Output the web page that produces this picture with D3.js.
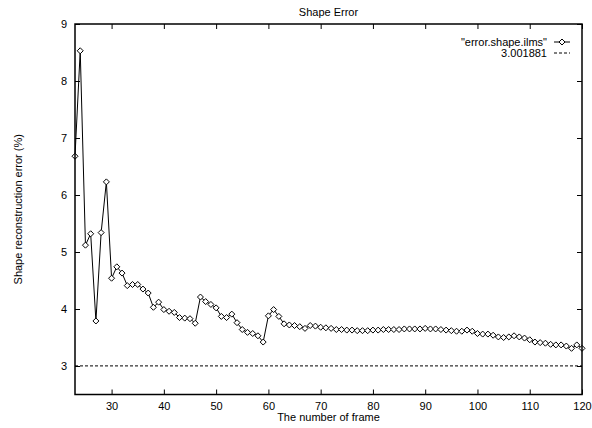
<!DOCTYPE html>
<html>
<head>
<meta charset="utf-8">
<script src="https://cdn.jsdelivr.net/npm/d3@7"></script>
<style>
  body { margin: 0; background: #fff; }
  text { font-family: "Liberation Sans", Arial, sans-serif; fill: #000; }
</style>
</head>
<body>
<svg id="chart" width="592" height="428"></svg>
<script>
// frame numbers 23..120
var frames = d3.range(23, 121);
var errors = [
  6.68, 8.53, 5.12, 5.32, 3.79, 5.34, 6.23, 4.54, 4.74, 4.63,
  4.41, 4.43, 4.43, 4.35, 4.28, 4.03, 4.12, 3.99, 3.96, 3.94,
  3.85, 3.84, 3.83, 3.75, 4.21, 4.13, 4.08, 4.02, 3.87, 3.85,
  3.91, 3.76, 3.64, 3.59, 3.57, 3.53, 3.42, 3.88, 3.99, 3.87,
  3.74, 3.72, 3.71, 3.69, 3.66, 3.71, 3.70, 3.68, 3.67, 3.66,
  3.64, 3.64, 3.63, 3.63, 3.62, 3.62, 3.62, 3.63, 3.63, 3.64,
  3.64, 3.64, 3.64, 3.65, 3.65, 3.65, 3.65, 3.66, 3.65, 3.65,
  3.64, 3.63, 3.62, 3.61, 3.61, 3.63, 3.61, 3.57, 3.56, 3.56,
  3.54, 3.51, 3.50, 3.51, 3.53, 3.51, 3.49, 3.46, 3.42, 3.41,
  3.40, 3.38, 3.37, 3.37, 3.35, 3.31, 3.37, 3.31
];
var baseline = 3.001881;
var xTicks = [30, 40, 50, 60, 70, 80, 90, 100, 110, 120];
var yTicks = [3, 4, 5, 6, 7, 8, 9];
var seriesName = '"error.shape.ilms"';
var baselineName = "3.001881";

function drawChart() {
  var pLeft = 75, pRight = 582, pTop = 24, pBottom = 394.5;

  var svg = d3.select("#chart");

  var x = d3.scaleLinear().domain([23, 120]).range([pLeft, pRight]);
  var y = d3.scaleLinear().domain([2.5, 9]).range([pBottom, pTop]);

  // ticks on all four sides, pointing inwards
  svg.append("g")
    .attr("transform", "translate(0," + pBottom + ")")
    .call(d3.axisBottom(x).tickValues(xTicks).tickSizeInner(-5).tickSizeOuter(0).tickPadding(8))
    .call(function(g) { g.select(".domain").remove(); });
  svg.append("g")
    .attr("transform", "translate(0," + pTop + ")")
    .call(d3.axisTop(x).tickValues(xTicks).tickSizeInner(-5).tickSizeOuter(0).tickFormat(""))
    .call(function(g) { g.select(".domain").remove(); });
  svg.append("g")
    .attr("transform", "translate(" + pLeft + ",0)")
    .call(d3.axisLeft(y).tickValues(yTicks).tickFormat(d3.format("d"))
      .tickSizeInner(-5).tickSizeOuter(0).tickPadding(8))
    .call(function(g) { g.select(".domain").remove(); });
  svg.append("g")
    .attr("transform", "translate(" + pRight + ",0)")
    .call(d3.axisRight(y).tickValues(yTicks).tickSizeInner(-5).tickSizeOuter(0).tickFormat(""))
    .call(function(g) { g.select(".domain").remove(); });

  svg.selectAll(".tick text")
    .attr("fill", "#000")
    .style("font-family", "'Liberation Sans', Arial, sans-serif")
    .style("font-size", "11px");
  svg.selectAll(".tick line").attr("stroke", "#000");

  // dashed reference line
  svg.append("line")
    .attr("x1", x(23)).attr("x2", x(120))
    .attr("y1", y(baseline)).attr("y2", y(baseline))
    .attr("stroke", "#000").attr("stroke-width", 1)
    .attr("stroke-dasharray", "3,2");

  var pts = frames.map(function(f, i) { return [f, errors[i]]; });

  svg.append("path")
    .datum(pts)
    .attr("fill", "none")
    .attr("stroke", "#000")
    .attr("stroke-width", 1)
    .attr("d", d3.line().x(function(d) { return x(d[0]); }).y(function(d) { return y(d[1]); }));

  var diamond = "M0,-3L3,0L0,3L-3,0Z";
  svg.selectAll(".pt")
    .data(pts)
    .enter().append("path")
    .attr("class", "pt")
    .attr("d", diamond)
    .attr("transform", function(d) { return "translate(" + x(d[0]) + "," + y(d[1]) + ")"; })
    .attr("fill", "#fff")
    .attr("stroke", "#000")
    .attr("stroke-width", 1);

  // border
  svg.append("rect")
    .attr("x", pLeft).attr("y", pTop)
    .attr("width", pRight - pLeft).attr("height", pBottom - pTop)
    .attr("fill", "none").attr("stroke", "#000").attr("stroke-width", 1.5);

  // legend
  var lg = svg.append("g");
  lg.append("text").attr("x", 547).attr("y", 46).attr("text-anchor", "end")
    .style("font-size", "11px").text(seriesName);
  lg.append("line").attr("x1", 554).attr("x2", 570).attr("y1", 42).attr("y2", 42)
    .attr("stroke", "#000");
  lg.append("path").attr("d", diamond).attr("transform", "translate(562,42)")
    .attr("fill", "#fff").attr("stroke", "#000");
  lg.append("text").attr("x", 547).attr("y", 57).attr("text-anchor", "end")
    .style("font-size", "11px").text(baselineName);
  lg.append("line").attr("x1", 554).attr("x2", 570).attr("y1", 53).attr("y2", 53)
    .attr("stroke", "#000").attr("stroke-dasharray", "3,2");

  // titles
  svg.append("text").attr("x", (pLeft + pRight) / 2).attr("y", 16)
    .attr("text-anchor", "middle").style("font-size", "11px").text("Shape Error");
  svg.append("text").attr("x", (pLeft + pRight) / 2).attr("y", 421)
    .attr("text-anchor", "middle").style("font-size", "11px").text("The number of frame");
  svg.append("text")
    .attr("transform", "translate(22," + (pTop + pBottom) / 2 + ") rotate(-90)")
    .attr("text-anchor", "middle").style("font-size", "11px")
    .text("Shape reconstruction error (%)");
}

drawChart();
</script>
</body>
</html>
